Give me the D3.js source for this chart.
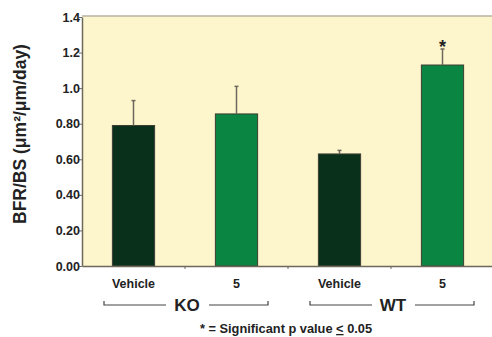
<!DOCTYPE html>
<html>
<head>
<meta charset="utf-8">
<script src="https://cdn.jsdelivr.net/npm/d3@7"></script>
<style>
  body { margin: 0; background: #fff; }
  text { font-family: "Liberation Sans", Arial, sans-serif; font-weight: bold; fill: #222; }
</style>
</head>
<body>
<script>
const w = 492;
const h = 337;

// data
const categories = ["Vehicle", "5", "Vehicle", "5"];
const groups = ["KO", "KO", "WT", "WT"];
const groupNames = ["KO", "WT"];
const means = [0.79, 0.855, 0.63, 1.13];
const errors = [0.14, 0.155, 0.02, 0.09];
const significant = [false, false, false, true];
const yTicks = [0, 0.2, 0.4, 0.6, 0.8, 1.0, 1.2, 1.4];
const yTickLabels = ["0.00", "0.20", "0.40", "0.60", "0.80", "1.0", "1.2", "1.4"];
const barColors = ["#08301a", "#0a8542", "#08301a", "#0a8542"];

const pLeft = 82, pRight = 494, pTop = 17, pBottom = 266;

let svg = d3.select("body").append("svg")
    .attr("width", w)
    .attr("height", h);

let yScale = d3.scaleLinear().domain([0, 1.4]).range([pBottom, pTop]);
let xScale = d3.scaleBand().domain(d3.range(categories.length)).range([pLeft, pRight]).padding(0);
let barW = xScale.bandwidth() * 0.41;

// plot background
svg.append("rect")
   .attr("x", pLeft).attr("y", pTop - 1)
   .attr("width", pRight - pLeft).attr("height", pBottom - pTop + 1)
   .attr("fill", "#fdf6cc");
svg.append("line")
   .attr("x1", pLeft).attr("x2", pRight).attr("y1", pTop - 1).attr("y2", pTop - 1)
   .attr("stroke", "#b9b2a4").attr("stroke-width", 1.5);

// bars
svg.selectAll("rect.bar")
   .data(means)
   .enter()
   .append("rect")
   .attr("class", "bar")
   .attr("x", (d, i) => xScale(i) + (xScale.bandwidth() - barW) / 2)
   .attr("y", d => yScale(d))
   .attr("width", barW)
   .attr("height", d => yScale(0) - yScale(d))
   .attr("fill", (d, i) => barColors[i])
   .attr("stroke", "#3d3d33")
   .attr("stroke-width", 1);

// error bars (upper only)
let cx = i => xScale(i) + xScale.bandwidth() / 2;
svg.selectAll("line.err")
   .data(means)
   .enter()
   .append("line")
   .attr("x1", (d, i) => cx(i)).attr("x2", (d, i) => cx(i))
   .attr("y1", d => yScale(d))
   .attr("y2", (d, i) => yScale(d + errors[i]))
   .attr("stroke", "#6e685c").attr("stroke-width", 1.5);
svg.selectAll("line.cap")
   .data(means)
   .enter()
   .append("line")
   .attr("x1", (d, i) => cx(i) - 2).attr("x2", (d, i) => cx(i) + 2)
   .attr("y1", (d, i) => yScale(d + errors[i]))
   .attr("y2", (d, i) => yScale(d + errors[i]))
   .attr("stroke", "#6e685c").attr("stroke-width", 1.5);

// significance asterisk
svg.selectAll("text.sig")
   .data(means.map((d, i) => i).filter(i => significant[i]))
   .enter()
   .append("text")
   .attr("x", i => cx(i))
   .attr("y", i => yScale(means[i] + errors[i]) + 4)
   .attr("text-anchor", "middle")
   .attr("font-size", 18)
   .attr("fill", "#333")
   .text("*");

// y axis
let yAxis = d3.axisLeft(yScale)
    .tickValues(yTicks)
    .tickFormat((d, i) => yTickLabels[i])
    .tickSize(3)
    .tickSizeOuter(0);
let gy = svg.append("g")
   .attr("transform", "translate(" + pLeft + ",0)")
   .call(yAxis);
gy.select(".domain").attr("stroke", "#6e685c").attr("stroke-width", 1.5);
gy.selectAll(".tick line").attr("stroke", "#6e685c");
gy.selectAll(".tick text")
  .attr("x", -2)
  .attr("font-size", 12.5)
  .attr("font-family", "'Liberation Sans', Arial, sans-serif")
  .attr("font-weight", "bold")
  .attr("fill", "#333");

// x axis
let xAxis = d3.axisBottom(xScale).tickValues([]).tickSizeOuter(0);
let gx = svg.append("g")
   .attr("transform", "translate(0," + pBottom + ")")
   .call(xAxis);
gx.select(".domain").attr("stroke", "#6e685c").attr("stroke-width", 1.5);
gx.selectAll(".sep")
  .data(d3.range(1, categories.length))
  .enter()
  .append("line")
  .attr("x1", i => xScale(i)).attr("x2", i => xScale(i))
  .attr("y1", 0).attr("y2", 3)
  .attr("stroke", "#6e685c");

// category labels
svg.selectAll("text.cat")
   .data(categories)
   .enter()
   .append("text")
   .attr("x", (d, i) => cx(i))
   .attr("y", 288)
   .attr("text-anchor", "middle")
   .attr("font-size", 12.5)
   .text(d => d);

// group brackets
groupNames.forEach(g => {
  let idx = groups.map((v, i) => v === g ? i : -1).filter(i => i >= 0);
  let x0 = xScale(idx[0]) + 22;
  let x1 = xScale(idx[idx.length - 1]) + xScale.bandwidth() - 20;
  let mid = (x0 + x1) / 2;
  let by = 305;
  let gb = svg.append("g");
  gb.append("path")
    .attr("d", "M" + x0 + "," + (by - 4) + "V" + by + "H" + (mid - 20))
    .attr("fill", "none").attr("stroke", "#444").attr("stroke-width", 1.2);
  gb.append("path")
    .attr("d", "M" + (mid + 23) + "," + by + "H" + x1 + "V" + (by - 4))
    .attr("fill", "none").attr("stroke", "#444").attr("stroke-width", 1.2);
  gb.append("text")
    .attr("x", mid + 1)
    .attr("y", 311)
    .attr("text-anchor", "middle")
    .attr("font-size", 17)
    .text(g);
});

// y axis title
svg.append("text")
   .attr("transform", "translate(26,134) rotate(-90)")
   .attr("text-anchor", "middle")
   .attr("font-size", 17.5)
   .text("BFR/BS (\u03bcm\u00b2/\u03bcm/day)");

// footnote
let foot = svg.append("text")
   .attr("x", 286)
   .attr("y", 333)
   .attr("text-anchor", "middle")
   .attr("font-size", 12.8);
foot.append("tspan").text("* = Significant p value ");
foot.append("tspan").attr("text-decoration", "underline").text("<");
foot.append("tspan").text(" 0.05");
</script>
</body>
</html>
